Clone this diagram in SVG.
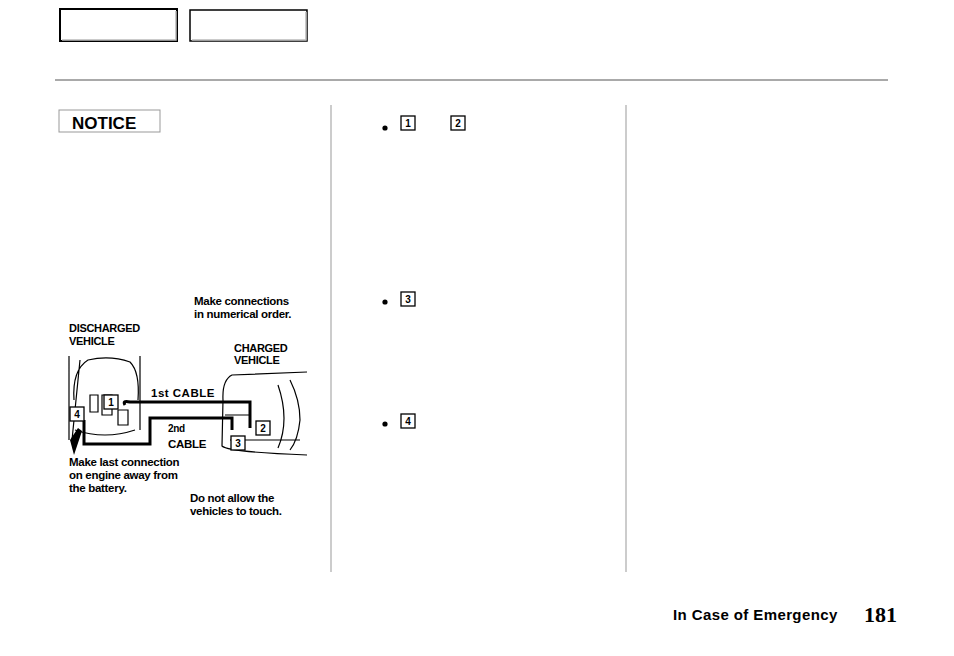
<svg xmlns="http://www.w3.org/2000/svg" width="954" height="656" viewBox="0 0 954 656">
<style>
.t{font-family:"Liberation Sans",Arial,sans-serif;font-weight:bold;font-size:11.5px;fill:#000;letter-spacing:-0.3px}
.n{font-family:"Liberation Sans",Arial,sans-serif;font-weight:bold;font-size:10px;fill:#000;text-anchor:middle}
.nb{fill:#fff;stroke:#000;stroke-width:1.3}
.sk{fill:none;stroke:#000;stroke-width:1.2}
.cb{fill:none;stroke:#000;stroke-width:3}
</style>
<rect width="954" height="656" fill="#fff"/>
<g id="tabs">
<rect x="60" y="9" width="117" height="32" fill="#fff" stroke="#000" stroke-width="2"/>
<path d="M62 40H176V11" fill="none" stroke="#bbb" stroke-width="1.5"/>
<rect x="190" y="10" width="117" height="31" fill="#fff" stroke="#000" stroke-width="1.5"/>
<path d="M192 40H306V12" fill="none" stroke="#bbb" stroke-width="1.5"/>
</g>
<line x1="55" y1="80" x2="888" y2="80" stroke="#555" stroke-width="1"/>
<line x1="331" y1="105" x2="331" y2="572" stroke="#999" stroke-width="1"/>
<line x1="626" y1="105" x2="626" y2="572" stroke="#999" stroke-width="1"/>
<g id="notice">
<rect x="59" y="110" width="101" height="22" fill="#fff" stroke="#999"/>
<text x="72" y="129" style="font-family:'Liberation Sans',Arial,sans-serif;font-weight:bold;font-size:17px">NOTICE</text>
</g>
<g id="bullets">
<circle cx="385" cy="128" r="2.6"/>
<rect x="401" y="116" width="14" height="14" class="nb"/><text x="408" y="127" class="n">1</text>
<rect x="451" y="116" width="14" height="14" class="nb"/><text x="458" y="127" class="n">2</text>
<circle cx="385" cy="302" r="2.6"/>
<rect x="401" y="292" width="14" height="14" class="nb"/><text x="408" y="303" class="n">3</text>
<circle cx="385" cy="424" r="2.6"/>
<rect x="401" y="414" width="14" height="14" class="nb"/><text x="408" y="425" class="n">4</text>
</g>
<g id="illustration">
<path class="sk" d="M69 356V440M140 356V430M74 400Q72 370 88 360Q110 355 130 362Q140 372 138 400M75 430Q105 440 135 430M80 360L72 440"/>
<path class="sk" d="M90 395V412H98V395Z M102 395V415H112V395Z"/>
<path class="sk" d="M307 372L232 375Q222 380 223 400L222 446Q228 452 307 455M290 380Q300 400 300 420Q298 440 290 450M278 385Q290 420 278 448M225 415H250M230 440H300"/>
<path class="sk" d="M118 410V425H128V410Z"/>
<path class="cb" d="M125 405Q122 400 130 402H250V428"/>
<path class="cb" d="M84 420V444H150V418H232V430"/>
<path d="M70 440L78 428L82 431L74 455Z"/>
<rect x="104" y="395" width="14" height="14" class="nb"/><text x="111" y="406" class="n">1</text>
<rect x="70" y="407" width="14" height="14" class="nb"/><text x="77" y="418" class="n">4</text>
<rect x="256" y="421" width="14" height="14" class="nb"/><text x="263" y="432" class="n">2</text>
<rect x="231" y="436" width="14" height="14" class="nb"/><text x="238" y="447" class="n">3</text>
</g>
<g id="labels">
<text x="194" y="305" class="t">Make connections</text>
<text x="194" y="318" class="t">in numerical order.</text>
<text x="69" y="332" class="t" style="font-size:11px">DISCHARGED</text>
<text x="69" y="345" class="t" style="font-size:11px">VEHICLE</text>
<text x="234" y="352" class="t" style="font-size:11px">CHARGED</text>
<text x="234" y="364" class="t" style="font-size:11px">VEHICLE</text>
<text x="151" y="397" class="t" style="letter-spacing:0.5px">1st  CABLE</text>
<text x="168" y="432" class="t" style="font-size:10px">2nd</text>
<text x="168" y="448" class="t">CABLE</text>
<text x="69" y="466" class="t">Make last connection</text>
<text x="69" y="479" class="t">on engine away from</text>
<text x="69" y="492" class="t">the battery.</text>
<text x="190" y="502" class="t">Do not allow the</text>
<text x="190" y="515" class="t">vehicles to touch.</text>
</g>
<g id="footer">
<text x="673" y="620" class="t" style="font-size:15px;letter-spacing:0.4px">In Case of Emergency</text>
<text x="864" y="622" style="font-family:'Liberation Serif',serif;font-weight:bold;font-size:22px">181</text>
</g>
</svg>
